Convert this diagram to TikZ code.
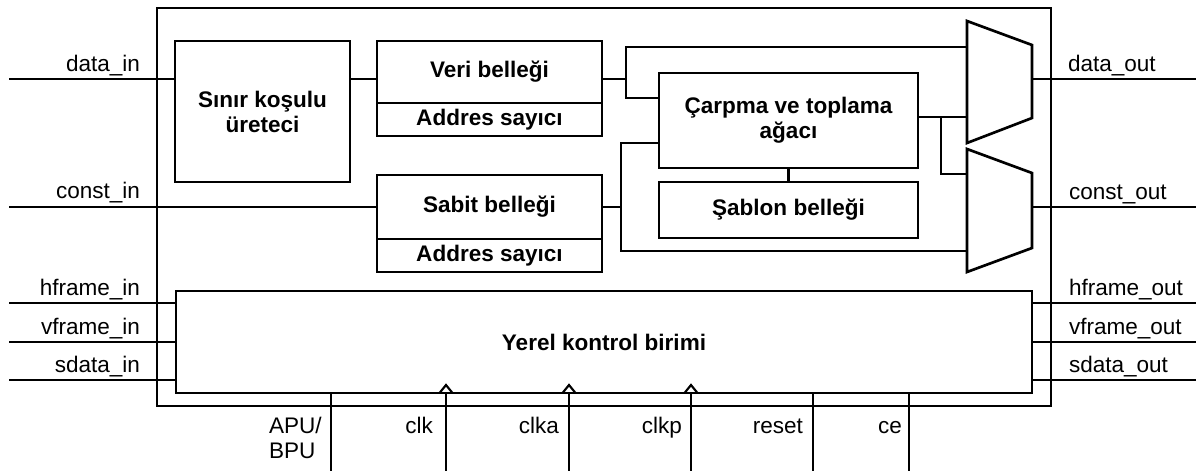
\documentclass[tikz,border=0pt]{standalone}
\usepackage{fontspec}
\setmainfont{Liberation Sans}
\begin{document}
\begin{tikzpicture}[x=0.75pt,y=-0.75pt,line width=2pt,line join=miter,
  every node/.style={inner sep=0pt,outer sep=0pt},
  blk/.style 2 args={draw,anchor=north west,align=center,
    font=\fontsize{16.9}{18.75}\selectfont\bfseries,
    minimum width=#1*0.75pt,minimum height=#2*0.75pt},
  pinl/.style={anchor=base east,font=\fontsize{16.9}{18.75}\selectfont},
  pinr/.style={anchor=base west,font=\fontsize{16.9}{18.75}\selectfont},
  clkmark/.style={line width=1.6pt}]
\useasboundingbox (0,0) rectangle (1196,471);

% unit frame and functional blocks
\node[blk={894}{398}] (apu) at (157,8) {};
\node[blk={175}{141}] (sinir) at (175,41) {S\i n\i r ko\c{s}ulu\\\"{u}reteci};
\node[blk={225}{62}] (veri) at (377,41) {Veri belle\u{g}i};
\node[blk={225}{33}] (adr1) at (377,103) {Addres say\i c\i};
\node[blk={225}{64}] (sabit) at (377,175) {Sabit belle\u{g}i};
\node[blk={225}{33}] (adr2) at (377,239) {Addres say\i c\i};
\node[blk={259}{95}] (carpma) at (659,73) {\c{C}arpma ve toplama\\a\u{g}ac\i};
\node[blk={259}{56}] (sablon) at (659,182) {\c{S}ablon belle\u{g}i};
\node[blk={856}{102}] (yerel) at (176,291) {Yerel kontrol birimi};

% output multiplexers
\coordinate (m1a) at (967,21);  \coordinate (m1b) at (1032,45);
\coordinate (m1c) at (1032,118); \coordinate (m1d) at (967,143);
\coordinate (m2a) at (967,149); \coordinate (m2b) at (1032,173);
\coordinate (m2c) at (1032,248); \coordinate (m2d) at (967,272);
\draw (m1a) -- (m1b) -- (m1c) -- (m1d) -- cycle;
\draw (m2a) -- (m2b) -- (m2c) -- (m2d) -- cycle;

% data path
\coordinate (dinL) at (9,79);
\coordinate (cinL) at (9,207);
\draw (dinL) -- (dinL -| sinir.west);
\draw (sinir.east |- dinL) -- (veri.west |- dinL);
\coordinate (vj) at (626,79);
\coordinate (vt) at (626,47);
\coordinate (vb) at (626,98);
\draw (veri.east |- vj) -- (vj);
\draw (vt -| m1a) -- (vt) -- (vb) -- (vb -| carpma.west);
\coordinate (co) at (918,117);
\coordinate (cb) at (941,117);
\coordinate (m2in) at (967,174);
\draw (carpma.east |- co) -- (co -| m1a);
\draw (cb) |- (m2in);
\draw (cinL) -- (cinL -| sabit.west);
\coordinate (sj) at (621,207);
\coordinate (st) at (621,143);
\coordinate (sb) at (621,251);
\draw (sabit.east |- sj) -- (sj);
\draw (st -| carpma.west) -- (st) -- (sb) -- (sb -| m2a);
\draw (carpma.south) -- (sablon.north);
\coordinate (doutR) at (1196,79);
\coordinate (coutR) at (1196,207);
\draw (m1b |- doutR) -- (doutR);
\draw (m2b |- coutR) -- (coutR);

% frame and serial data ports
\foreach \n/\y in {hf/303,vf/342,sd/380}{
  \coordinate (\n L) at (9,\y);
  \coordinate (\n R) at (1196,\y);
  \draw (\n L) -- (\n L -| yerel.west);
  \draw (yerel.east |- \n R) -- (\n R);
}

% control inputs along the bottom
\foreach \n/\x in {apub/331,clk/446,clka/569,clkp/691,reset/813,ce/909}{
  \coordinate (\n B) at (\x,471);
  \draw (yerel.south -| \n B) -- (\n B);
}
\foreach \x in {446,569,691}{
  \draw[clkmark] (\x-6.5,393) -- (\x,385) -- (\x+6.5,393);
}

% port labels
\node[pinl] (l1) at (140,71) {data\_in};
\node[pinl] (l2) at (140,198) {const\_in};
\node[pinl] (l3) at (140,295) {hframe\_in};
\node[pinl] (l4) at (140,334) {vframe\_in};
\node[pinl] (l5) at (140,372) {sdata\_in};
\node[pinr] (r1) at (1068,71) {data\_out};
\node[pinr] (r2) at (1069,199) {const\_out};
\node[pinr] (r3) at (1069,295) {hframe\_out};
\node[pinr] (r4) at (1069,334) {vframe\_out};
\node[pinr] (r5) at (1069,372) {sdata\_out};
\node[pinr] (b1) at (269,433) {APU/};
\node[pinr] (b2) at (269,458) {BPU};
\node[pinl] (b3) at (433,433) {clk};
\node[pinl] (b4) at (559,433) {clka};
\node[pinl] (b5) at (682,433) {clkp};
\node[pinl] (b6) at (803,433) {reset};
\node[pinl] (b7) at (902,433) {ce};
\end{tikzpicture}
\end{document}
